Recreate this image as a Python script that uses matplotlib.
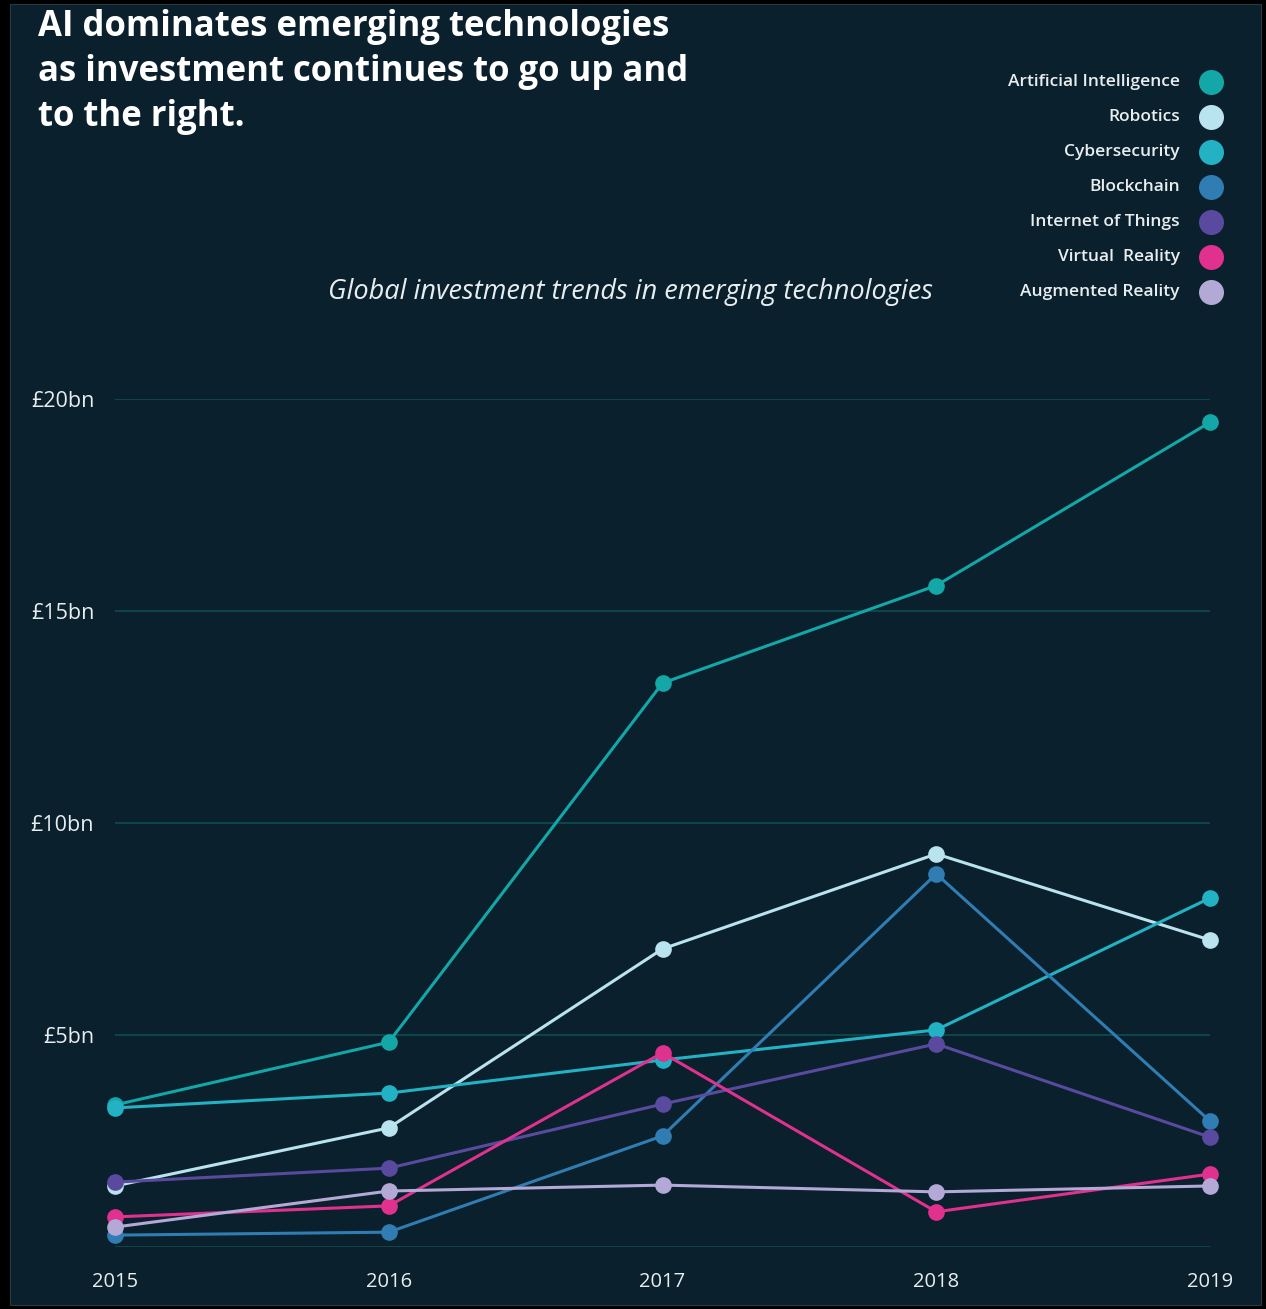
import matplotlib
matplotlib.use("Agg")
import matplotlib.pyplot as plt
from matplotlib.patches import Rectangle

# Investment by technology, £bn
years = [2015, 2016, 2017, 2018, 2019]
artificial_intelligence = [3.35, 4.83, 13.3, 15.6, 19.45]
robotics = [1.44, 2.81, 7.03, 9.27, 7.24]
cybersecurity = [3.28, 3.63, 4.41, 5.12, 8.23]
blockchain = [0.28, 0.35, 2.62, 8.8, 2.97]
internet_of_things = [1.53, 1.86, 3.37, 4.79, 2.59]
virtual_reality = [0.71, 0.97, 4.58, 0.83, 1.72]
augmented_reality = [0.47, 1.32, 1.46, 1.30, 1.44]

series_names = ["Artificial Intelligence", "Robotics", "Cybersecurity", "Blockchain",
                "Internet of Things", "Virtual  Reality", "Augmented Reality"]
series_values = [artificial_intelligence, robotics, cybersecurity, blockchain,
                 internet_of_things, virtual_reality, augmented_reality]
series_colors = ["#13a7a8", "#b9e3ee", "#22b2c4", "#2f7db2",
                 "#5a4a9f", "#e0318f", "#b3a9d6"]

y_ticks = [5, 10, 15, 20]
y_tick_labels = ["£5bn", "£10bn", "£15bn", "£20bn"]
x_tick_labels = ["2015", "2016", "2017", "2018", "2019"]

W, H = 1266, 1309
BG = "#0b202d"
GRID = "#0f4a4f"
TEXT = "#e8eef0"
FONT = "Open Sans"

fig = plt.figure(figsize=(W / 100, H / 100), dpi=100, facecolor="black")

# dark panel inside the black frame
fig.patches.append(Rectangle((10 / W, 4 / H), (1261 - 10) / W, (1305 - 4) / H,
                             transform=fig.transFigure, facecolor=BG,
                             edgecolor="#2a3840", linewidth=0.8, zorder=-5))


def fx(px):
    return px / W


def fy(py):
    return 1 - py / H


ax_left, ax_right = 115, 1210
ax_top, ax_bottom = 399, 1247
ax = fig.add_axes([fx(ax_left), fy(ax_bottom), (ax_right - ax_left) / W,
                   (ax_bottom - ax_top) / H])
ax.set_zorder(2)
ax.set_facecolor("none")
ax.set_xlim(2015, 2019)
ax.set_ylim(0, 20)
for s in ax.spines.values():
    s.set_visible(False)

for v in [0] + y_ticks:
    ax.axhline(v, color=GRID, lw=1.3, zorder=1)

for name, vals, col in zip(series_names, series_values, series_colors):
    ax.plot(years, vals, color=col, lw=2.2, marker="o", ms=12,
            markeredgewidth=0, clip_on=False, zorder=3)

ax.set_yticks(y_ticks)
ax.set_yticklabels(y_tick_labels)
ax.set_xticks(years)
ax.set_xticklabels(x_tick_labels)
ax.tick_params(axis="y", length=0, pad=15, labelsize=15.5, labelcolor=TEXT)
ax.tick_params(axis="x", length=0, pad=18, labelsize=14.5, labelcolor=TEXT)
for lab in ax.get_xticklabels() + ax.get_yticklabels():
    lab.set_fontfamily(FONT)

# title
title_lines = ["AI dominates emerging technologies",
               "as investment continues to go up and",
               "to the right."]
for i, line in enumerate(title_lines):
    fig.text(fx(38), fy(27 + 45 * i), line, color="white", fontsize=25,
             fontweight="bold", family=FONT, ha="left", va="center")

# subtitle
fig.text(fx(631), fy(292), "Global investment trends in emerging technologies",
         color=TEXT, fontsize=19.5, style="italic", family=FONT,
         ha="center", va="center")

# legend
for i, (name, col) in enumerate(zip(series_names, series_colors)):
    y = fy(82 + 35 * i)
    fig.text(fx(1180), y, name, color=TEXT, fontsize=12.5, family=FONT,
             fontweight="semibold", ha="right", va="center")
    fig.lines.append(plt.Line2D([fx(1211)], [y], transform=fig.transFigure,
                                marker="o", ms=18, color=col,
                                markeredgewidth=0, linestyle="none"))

fig.savefig("out.png", dpi=100, facecolor="black")
